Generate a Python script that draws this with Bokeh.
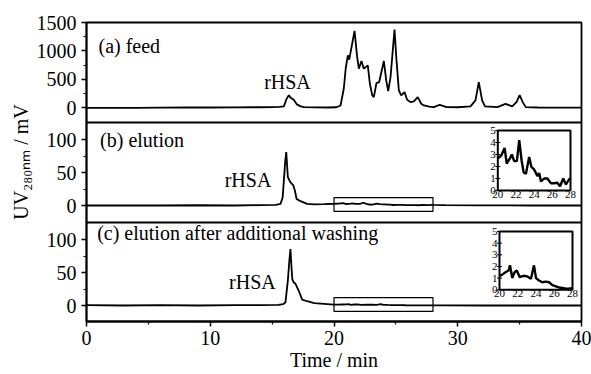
from bokeh.plotting import figure
from bokeh.models import Range1d, FixedTicker, Label, Span
from bokeh.core.properties import value
from bokeh.embed import file_html
from bokeh.resources import INLINE

FONT = "Liberation Serif"

# ---------------- data ----------------
feed_time = [0.0, 2.0, 4.0, 6.0, 8.0, 10.0, 12.0, 14.0, 15.0, 15.6, 15.95, 16.15, 16.35, 16.5, 16.75,
             17.0, 17.3, 17.6, 18.5, 19.5, 20.2, 20.53, 20.79, 20.95, 21.12, 21.23, 21.47, 21.66, 21.87,
             22.01, 22.22, 22.41, 22.73, 22.9, 23.09, 23.22, 23.43, 23.65, 24.03, 24.22, 24.38, 24.57,
             24.89, 25.05, 25.24, 25.43, 25.7, 25.91, 26.18, 26.45, 26.77, 27.05, 27.26, 27.7, 28.07,
             28.55, 29.1, 30.0, 31.03, 31.43, 31.7, 31.97, 32.2, 33.2, 33.86, 34.4, 34.75, 35.0, 35.25,
             35.5, 36.5, 38.0, 40.0]
feed_uv = [0, 0, 0, 3, 5, 5, 8, 10, 12, 15, 25, 150, 220, 175, 140,
           60, 25, 12, 6, 5, 10, 41, 335, 700, 923, 847, 1130, 1352, 894,
           688, 823, 688, 747, 423, 218, 188, 435, 453, 823, 482, 294, 541,
           1376, 835, 306, 218, 276, 141, 100, 112, 188, 71, 41, 20, 12,
           53, 12, 10, 24, 130, 453, 130, 24, 12, 70, 24, 100, 225, 100,
           12, 5, 3, 2]

# elution (b): before the zoomed window, zoomed window (inset), after
elu_pre_time = [0, 3, 6, 9, 12, 14, 15.3, 15.68, 15.85, 15.95, 16.05, 16.14, 16.27, 16.48, 16.7,
                16.85, 16.97, 17.29, 17.83, 18.4, 19.2]
elu_pre_uv = [0, 0.3, 0, 0.4, 0, 0.5, 1, 2.5, 12, 38, 65, 81, 43, 35, 31,
              22, 10, 6.5, 2.5, 1.8, 2.2]
elu_zoom_time = [20.0, 20.37, 20.75, 20.98, 21.35, 21.55, 21.8, 22.1, 22.36, 22.62, 22.85, 23.1, 23.45,
                 23.7, 23.95, 24.1, 24.35, 24.55, 24.75, 25.1, 25.45, 25.85, 26.2, 26.55, 26.85, 27.2,
                 27.5, 27.9, 28.0]
elu_zoom_uv = [2.65, 2.9, 3.55, 2.25, 2.7, 3.0, 2.45, 2.45, 4.2, 2.5, 1.5, 1.4, 2.8,
               1.95, 1.8, 1.6, 1.2, 1.45, 0.75, 1.0, 1.0, 0.6, 0.6, 0.65, 0.35, 1.0,
               0.5, 1.0, 0.9]
elu_post_time = [29, 32, 36, 40]
elu_post_uv = [0.6, 0.3, 0, 0]

# elution after additional washing (c)
wash_pre_time = [0, 3, 6, 9, 12, 14, 15.5, 15.9, 16.08, 16.27, 16.4, 16.48, 16.56, 16.63, 16.75,
                 16.89, 17.16, 17.43, 17.83, 18.4, 19.2]
wash_pre_uv = [0.5, 0, 0.5, 0, 0.5, 0.5, 1, 2, 5, 38, 70, 86, 60, 40, 35,
               33, 22, 9, 6.5, 3.5, 2.5]
wash_zoom_time = [20.0, 20.3, 20.66, 21.0, 21.15, 21.4, 21.65, 21.9, 22.2, 22.65, 23.05, 23.45, 23.78,
                  24.0, 24.33, 24.7, 25.06, 25.43, 25.8, 26.17, 26.53, 26.9, 27.27, 27.63, 28.0]
wash_zoom_uv = [1.2, 1.3, 1.5, 1.65, 2.1, 1.0, 1.5, 1.65, 1.1, 1.2, 1.15, 0.95, 2.1,
                1.0, 0.8, 0.65, 0.7, 0.65, 0.4, 0.3, 0.2, 0.15, 0.1, 0.1, 0.15]
wash_post_time = [29, 32, 36, 40]
wash_post_uv = [0.2, 0, 0, 0]

x_ticks = [0, 10, 20, 30, 40]
x_minor = [5, 15, 25, 35]
a_ticks = [0, 500, 1000, 1500]
a_minor = [250, 750, 1250]
bc_ticks = [0, 50, 100]
bc_minor = [25, 75]
inset_x_ticks = [20, 22, 24, 26, 28]
inset_y_ticks = [0, 1, 2, 3, 4, 5]
zoom_window = (20, 28)
zoom_box_uv = (-9, 12)

panel_texts = ["(a) feed", "(b) elution", "(c) elution after additional washing"]
peak_label = "rHSA"
x_title = "Time / min"
# leading no-break spaces nudge the centred title slightly upward, as in the original
y_title = "\u00a0\u00a0\u00a0\u00a0UV\u2082\u2088\u2080\u2099\u2098 / mV"

# ---------------- layout (pixels) ----------------
W, H = 591, 374
FL, FR, FT, FB = 86, 581, 22, 321
FH = FB - FT

# panel vertical mapping: (pixel of value 0, pixels per unit)
PAN = {"a": (107.3, 85.3 / 1500.0), "b": (205.0, 0.66), "c": (305.0, 0.657)}


def yr(zero_px, s):
    return Range1d(start=-(FB - zero_px) / s, end=(zero_px - FT) / s)


def xr(v0, p0, v1, p1):
    s = (p1 - p0) / (v1 - v0)
    return Range1d(start=v0 - (p0 - FL) / s, end=v0 + (FR - p0) / s)


def yr2(v0, p0, v1, p1):
    s = (p0 - p1) / (v1 - v0)
    return Range1d(start=v0 - (FB - p0) / s, end=v0 + (p0 - FT) / s)


def to_def(panel, v):
    z, s = PAN[panel]
    return round(FB - (z - v * s), 3)


p = figure(width=W, height=H, output_backend="svg", toolbar_location=None,
           x_range=Range1d(0, 40), y_range=Range1d(0, FH),
           min_border_left=FL, min_border_right=W - FR, min_border_top=FT,
           min_border_bottom=H - FB)
p.background_fill_color = "white"
p.border_fill_color = "white"
p.outline_line_color = "black"
p.outline_line_width = 1.8
p.xgrid.visible = False
p.ygrid.visible = False

p.extra_y_ranges = {
    "a": yr(*PAN["a"]), "b": yr(*PAN["b"]), "c": yr(*PAN["c"]),
    "iyb": yr2(0, 190.0, 5, 130.0), "iyc": yr2(0, 289.3, 5, 231.0),
}
p.extra_x_ranges = {
    "ixb": xr(20, 497.3, 28, 570.0), "ixc": xr(20, 499.0, 28, 572.0),
}

# axes
for ax in (p.xaxis[0], p.yaxis[0]):
    ax.axis_line_width = 1.8
    ax.major_tick_line_width = 1.5
    ax.minor_tick_line_width = 1.2
    ax.major_tick_in = 0
    ax.minor_tick_in = 0
    ax.major_tick_out = 5
    ax.minor_tick_out = 3
    ax.major_label_text_font = FONT
    ax.major_label_text_font_size = "20px"
    ax.major_label_text_color = "black"
    ax.axis_label_text_font = FONT
    ax.axis_label_text_font_style = "normal"
    ax.axis_label_text_color = "black"

p.xaxis.ticker = FixedTicker(ticks=x_ticks, minor_ticks=x_minor)
p.xaxis.axis_label = x_title
p.xaxis.axis_label_text_font_size = "20px"
p.xaxis.axis_label_standoff = 1
p.xaxis.major_label_standoff = 4

yt, ym, ov = [], [], {}
for v in a_ticks:
    loc = to_def("a", v); yt.append(loc); ov[loc] = str(v)
for v in a_minor:
    ym.append(to_def("a", v))
for pn in ("b", "c"):
    for v in bc_ticks:
        loc = to_def(pn, v); yt.append(loc); ov[loc] = str(v)
    for v in bc_minor:
        ym.append(to_def(pn, v))
p.yaxis.ticker = FixedTicker(ticks=yt, minor_ticks=ym)
p.yaxis.major_label_overrides = ov
p.yaxis.major_label_standoff = 5
p.yaxis.axis_label = y_title
p.yaxis.axis_label_text_font_size = "20px"
p.yaxis.axis_label_standoff = 2

# panel separators
for sep in (122, 222):
    p.add_layout(Span(location=FB - sep, dimension="width", line_color="black", line_width=1.8))

# main traces
p.line(feed_time, feed_uv, y_range_name="a", line_color="black", line_width=1.8)
p.line(elu_pre_time + elu_zoom_time + elu_post_time, elu_pre_uv + elu_zoom_uv + elu_post_uv,
       y_range_name="b", line_color="black", line_width=1.8)
p.line(wash_pre_time + wash_zoom_time + wash_post_time, wash_pre_uv + wash_zoom_uv + wash_post_uv,
       y_range_name="c", line_color="black", line_width=1.8)

# zoom boxes on main panels
for pn in ("b", "c"):
    p.quad(left=[zoom_window[0]], right=[zoom_window[1]], bottom=[zoom_box_uv[0]], top=[zoom_box_uv[1]],
           y_range_name=pn, fill_alpha=0, line_color="black", line_width=1.2)

# insets
for xn, yn, t, u in (("ixb", "iyb", elu_zoom_time, elu_zoom_uv), ("ixc", "iyc", wash_zoom_time, wash_zoom_uv)):
    p.quad(left=[zoom_window[0]], right=[zoom_window[1]], bottom=[inset_y_ticks[0]], top=[inset_y_ticks[-1]],
           x_range_name=xn, y_range_name=yn, fill_color="white", line_color="black", line_width=2)
    p.line(t, u, x_range_name=xn, y_range_name=yn, line_color="black", line_width=2.4)
    p.text(x=inset_x_ticks, y=[inset_y_ticks[0]] * len(inset_x_ticks), text=[str(v) for v in inset_x_ticks],
           x_range_name=xn, y_range_name=yn, text_font=value(FONT), text_font_size="11px",
           text_align="center", text_baseline="top", y_offset=0, text_color="black")
    p.text(x=[zoom_window[0]] * len(inset_y_ticks), y=inset_y_ticks, text=[str(v) for v in inset_y_ticks],
           x_range_name=xn, y_range_name=yn, text_font=value(FONT), text_font_size="11px",
           text_align="right", text_baseline="middle", x_offset=-2, text_color="black")
    p.scatter(x=[zoom_window[0]] * len(inset_y_ticks), y=inset_y_ticks, marker="dash", size=5,
              x_range_name=xn, y_range_name=yn, line_color="black", line_width=1)

# text annotations
def lab(text, x, y, yname, align="left"):
    p.add_layout(Label(x=x, y=y, y_range_name=yname, text=text, text_font=FONT, text_font_size="20px",
                       text_align=align, text_baseline="middle", text_color="black"))

lab(panel_texts[0], 0.97, 1087, "a")
lab(peak_label, 16.24, 454, "a", "center")
lab(panel_texts[1], 1.1, 99, "b")
lab(peak_label, 13.05, 38, "b", "center")
lab(panel_texts[2], 0.86, 109.6, "c")
lab(peak_label, 13.41, 35.8, "c", "center")

open("out.html", "w").write(file_html(p, INLINE))
